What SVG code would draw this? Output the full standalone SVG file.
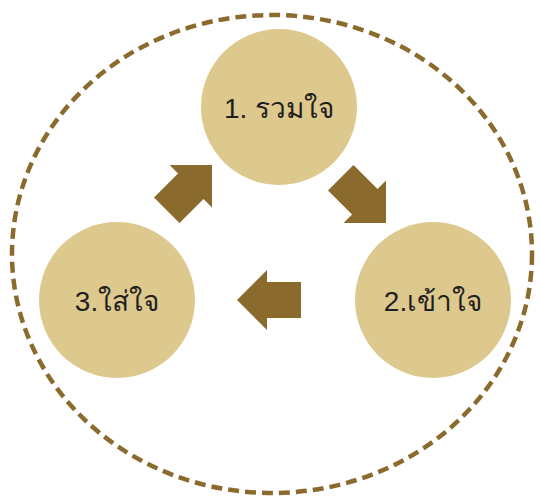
<svg xmlns="http://www.w3.org/2000/svg" width="540" height="498" viewBox="0 0 540 498">
  <style>
    .ring { fill: none; stroke: #8B6B2D; stroke-width: 4.5; stroke-dasharray: 11 6; }
    .node circle { fill: #DDC88E; }
    .node text { font-family: "Liberation Sans", "DejaVu Sans", "Noto Sans", sans-serif; font-size: 28px; fill: #231F20; text-anchor: middle; }
    .arrow { fill: #8B6B2D; }
  </style>
  <defs>
    <!-- block arrow pointing left, tip at origin -->
    <path id="blockArrow" d="M0,0 L30,-30 L30,-18 L64,-18 L64,18 L30,18 L30,30 Z"/>
  </defs>
  <rect width="540" height="498" fill="#FFFFFF"/>
  <ellipse class="ring" cx="272" cy="254" rx="260" ry="239"/>

  <g id="connectors">
    <use href="#blockArrow" class="arrow" transform="translate(386,223) rotate(-135)"/>
    <use href="#blockArrow" class="arrow" transform="translate(237,300)"/>
    <use href="#blockArrow" class="arrow" transform="translate(212,165) rotate(135)"/>
  </g>

  <g id="node-1" class="node">
    <circle cx="279" cy="107" r="78"/>
    <text x="279" y="118">1. รวมใจ</text>
  </g>
  <g id="node-2" class="node">
    <circle cx="433" cy="300" r="78"/>
    <text x="433" y="311">2.เข้าใจ</text>
  </g>
  <g id="node-3" class="node">
    <circle cx="117" cy="300" r="78"/>
    <text x="117" y="311">3.ใส่ใจ</text>
  </g>
</svg>
